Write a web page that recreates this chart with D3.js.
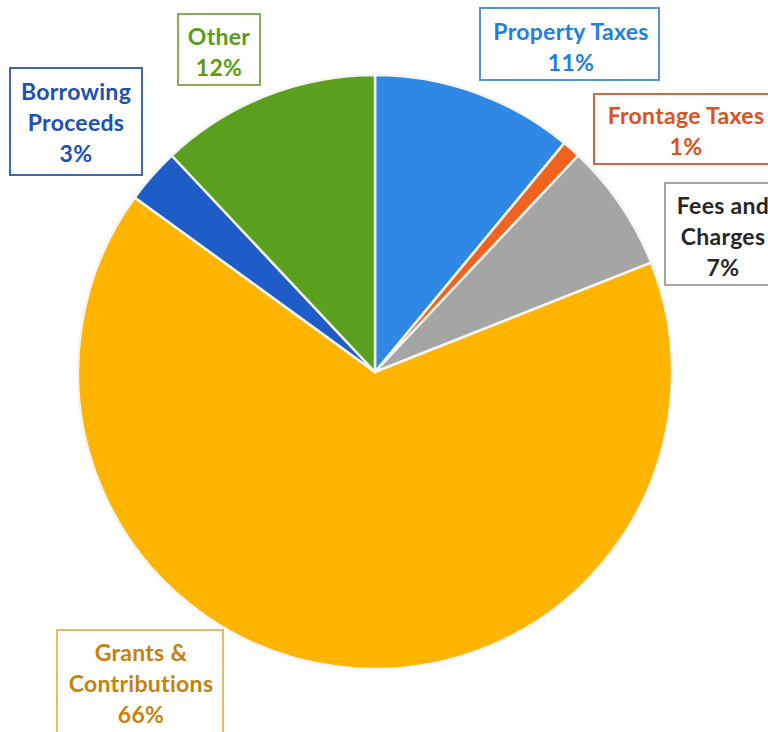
<!DOCTYPE html>
<html>
<head>
<meta charset="utf-8">
<script src="https://cdn.jsdelivr.net/npm/d3@7"></script>
<style>
  html, body { margin: 0; padding: 0; background: #fff; }
  svg { display: block; }
</style>
</head>
<body>
<div id="chart"></div>
<script>
// data
const categories = ['Property Taxes', 'Frontage Taxes', 'Fees and Charges', 'Grants & Contributions', 'Borrowing Proceeds', 'Other'];
const values = [11, 1, 7, 66, 3, 12];
const labelLines = [
  ['Property Taxes', '11%'],
  ['Frontage Taxes', '1%'],
  ['Fees and', 'Charges', '7%'],
  ['Grants &', 'Contributions', '66%'],
  ['Borrowing', 'Proceeds', '3%'],
  ['Other', '12%']
];

const width = 768, height = 732;
const cx = 375, cy = 372, radius = 297;

const sliceColors = ['#2e88e4', '#f0621e', '#a5a5a5', '#ffb400', '#1e5cc8', '#5aa01e'];
const textColors = ['#1f7fe0', '#e0501a', '#262626', '#c98009', '#1b50b4', '#5a9c14'];
const boxColors = ['#4a86cc', '#d2562a', '#9a9a9a', '#e8b250', '#2a56b0', '#78a83a'];

// label boxes: x, y, w, h, text center x, first baseline
const boxes = [
  {x: 480, y: 8, w: 179, h: 72, tx: 571, ty: 40},
  {x: 594, y: 94, w: 190, h: 70, tx: 686, ty: 124},
  {x: 665, y: 183, w: 120, h: 102, tx: 723, ty: 214},
  {x: 57, y: 630, w: 166, h: 110, tx: 141, ty: 661},
  {x: 10, y: 68, w: 132, h: 107, tx: 76, ty: 100},
  {x: 178, y: 14, w: 82, h: 71, tx: 219, ty: 45}
];
const lineGap = 31;

const svg = d3.select('#chart').append('svg')
  .attr('width', width)
  .attr('height', height);

const pie = d3.pie().sort(null).value(d => d);
const arc = d3.arc().innerRadius(0).outerRadius(radius);

const g = svg.append('g').attr('transform', `translate(${cx},${cy})`);
g.selectAll('path')
  .data(pie(values))
  .join('path')
  .attr('d', arc)
  .attr('fill', (d, i) => sliceColors[i])
  .attr('stroke', '#f4f4f4')
  .attr('stroke-width', 2.5)
  .attr('stroke-linejoin', 'round');

const labels = svg.selectAll('g.label')
  .data(categories)
  .join('g')
  .attr('class', 'label');

labels.append('rect')
  .attr('x', (d, i) => boxes[i].x)
  .attr('y', (d, i) => boxes[i].y)
  .attr('width', (d, i) => boxes[i].w)
  .attr('height', (d, i) => boxes[i].h)
  .attr('fill', '#fff')
  .attr('stroke', (d, i) => boxColors[i])
  .attr('stroke-width', 1.8);

labels.each(function(d, i) {
  d3.select(this).selectAll('text')
    .data(labelLines[i])
    .join('text')
    .attr('x', boxes[i].tx)
    .attr('y', (t, j) => boxes[i].ty + j * lineGap)
    .attr('text-anchor', 'middle')
    .attr('font-family', 'Lato, "Open Sans", sans-serif')
    .attr('font-weight', 'bold')
    .attr('font-size', 23)
    .attr('letter-spacing', 0.3)
    .attr('fill', textColors[i])
    .text(t => t);
});
</script>
</body>
</html>
